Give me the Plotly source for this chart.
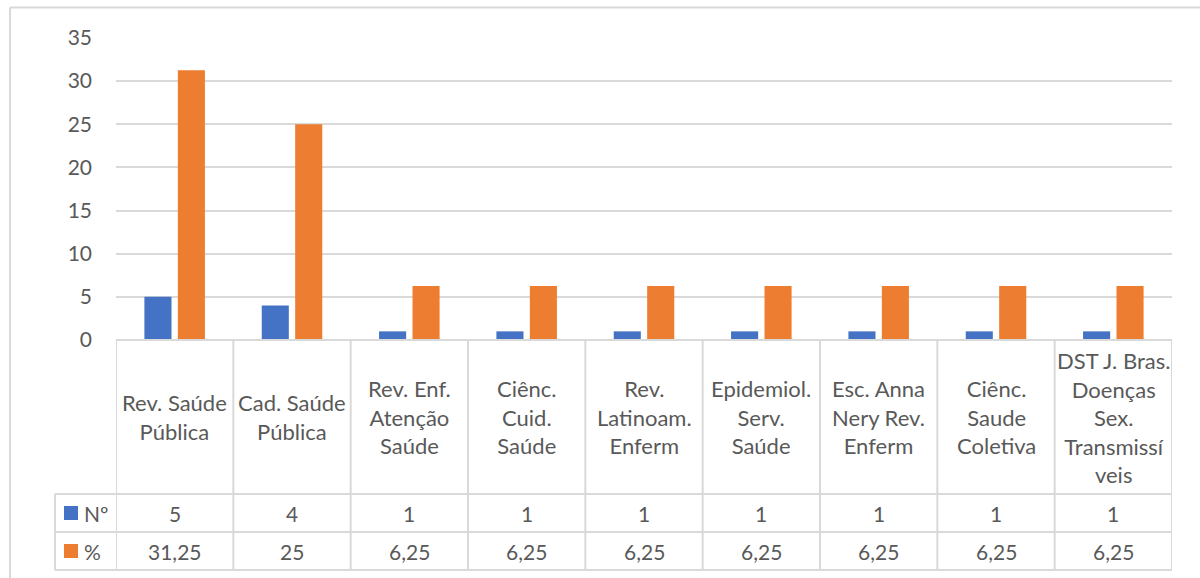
import plotly.graph_objects as go

categories = [
    "Rev. Saúde<br>Pública",
    "Cad. Saúde<br>Pública",
    "Rev. Enf.<br>Atenção<br>Saúde",
    "Ciênc.<br>Cuid.<br>Saúde",
    "Rev.<br>Latinoam.<br>Enferm",
    "Epidemiol.<br>Serv.<br>Saúde",
    "Esc. Anna<br>Nery Rev.<br>Enferm",
    "Ciênc.<br>Saude<br>Coletiva",
    "DST J. Bras.<br>Doenças<br>Sex.<br>Transmissí<br>veis",
]
series_names = ["Nº", "%"]
n_values = [5, 4, 1, 1, 1, 1, 1, 1, 1]
pct_values = [31.25, 25, 6.25, 6.25, 6.25, 6.25, 6.25, 6.25, 6.25]
y_ticks = [0, 5, 10, 15, 20, 25, 30, 35]

BLUE = "#4472C4"
ORANGE = "#ED7D31"
TXT = "#595959"
GRID = "#D9D9D9"
FONT = "Lato"
FS_CAT = 22
FS_NUM = 21

W, H = 1200, 578
ML, MR, MT, MB = 116, 28, 38, 238
PLOT_W = W - ML - MR
PLOT_H = H - MT - MB


def py(p):
    return (H - MB - p) / PLOT_H


def px(p):
    return (p - ML) / PLOT_W


def fmt(v):
    s = ("%g" % v)
    return s.replace(".", ",")


x_idx = list(range(len(categories)))

fig = go.Figure()
fig.add_trace(go.Bar(x=x_idx, y=n_values, name=series_names[0], marker_color=BLUE,
                     marker_line_width=0))
fig.add_trace(go.Bar(x=x_idx, y=pct_values, name=series_names[1], marker_color=ORANGE,
                     marker_line_width=0))

shapes = []
annotations = []

row_top = 340
row_hdr_bot = 494
row_n_bot = 532
row_p_bot = 570
leg_left = 55

# vertical lines of table columns
for i in range(len(categories) + 1):
    shapes.append(dict(type="line", xref="x", yref="paper", x0=i - 0.5, x1=i - 0.5,
                       y0=py(row_top), y1=py(row_p_bot), line=dict(color=GRID, width=2)))
# legend column left
shapes.append(dict(type="line", xref="paper", yref="paper", x0=px(leg_left), x1=px(leg_left),
                   y0=py(row_hdr_bot), y1=py(row_p_bot), line=dict(color=GRID, width=2)))
# horizontal lines
shapes.append(dict(type="line", xref="paper", yref="paper", x0=0, x1=1,
                   y0=py(row_top), y1=py(row_top), line=dict(color=GRID, width=2)))
for yy in [row_hdr_bot, row_n_bot, row_p_bot]:
    shapes.append(dict(type="line", xref="paper", yref="paper", x0=px(leg_left), x1=1,
                       y0=py(yy), y1=py(yy), line=dict(color=GRID, width=2)))
# outer chart border
shapes.append(dict(type="line", xref="paper", yref="paper", x0=px(10), x1=px(1210),
                   y0=py(7.5), y1=py(7.5), line=dict(color=GRID, width=2)))
shapes.append(dict(type="line", xref="paper", yref="paper", x0=px(10), x1=px(10),
                   y0=py(7.5), y1=py(590), line=dict(color=GRID, width=2)))

# category header cells
for i, c in enumerate(categories):
    annotations.append(dict(x=i, y=py((row_top + row_hdr_bot) / 2), xref="x", yref="paper",
                            text=c, showarrow=False, xanchor="center", yanchor="middle",
                            font=dict(family=FONT, size=FS_CAT, color=TXT)))
# value rows
for row_vals, (y0, y1) in [(n_values, (row_hdr_bot, row_n_bot)), (pct_values, (row_n_bot, row_p_bot))]:
    for i, v in enumerate(row_vals):
        annotations.append(dict(x=i, y=py((y0 + y1) / 2), xref="x", yref="paper",
                                text=fmt(v), showarrow=False, xanchor="center", yanchor="middle",
                                font=dict(family=FONT, size=FS_NUM, color=TXT)))
# legend keys
for name, color, (y0, y1) in [(series_names[0], BLUE, (row_hdr_bot, row_n_bot)),
                              (series_names[1], ORANGE, (row_n_bot, row_p_bot))]:
    cy = (y0 + y1) / 2
    shapes.append(dict(type="rect", xref="paper", yref="paper", x0=px(64), x1=px(78),
                       y0=py(cy + 7), y1=py(cy - 7), fillcolor=color, line=dict(width=0)))
    annotations.append(dict(x=px(82), y=py(cy), xref="paper", yref="paper", text=name,
                            showarrow=False, xanchor="left", yanchor="middle",
                            font=dict(family=FONT, size=FS_NUM, color=TXT)))

fig.update_layout(
    width=W, height=H,
    margin=dict(l=ML, r=MR, t=MT, b=MB),
    paper_bgcolor="white", plot_bgcolor="white",
    barmode="group", bargap=0.43, bargroupgap=0.19,
    showlegend=False,
    shapes=shapes, annotations=annotations,
    font=dict(family=FONT, size=FS_NUM, color=TXT),
    xaxis=dict(range=[-0.5, len(categories) - 0.5], showticklabels=False, showgrid=False,
               zeroline=False, showline=False, ticks=""),
    yaxis=dict(range=[0, 35], tickvals=y_ticks, showgrid=True, gridcolor=GRID, gridwidth=2,
               zeroline=False, showline=False, ticks="", ticklabelstandoff=23,
               tickfont=dict(family=FONT, size=FS_NUM, color=TXT)),
)

fig.write_html("out.html")
